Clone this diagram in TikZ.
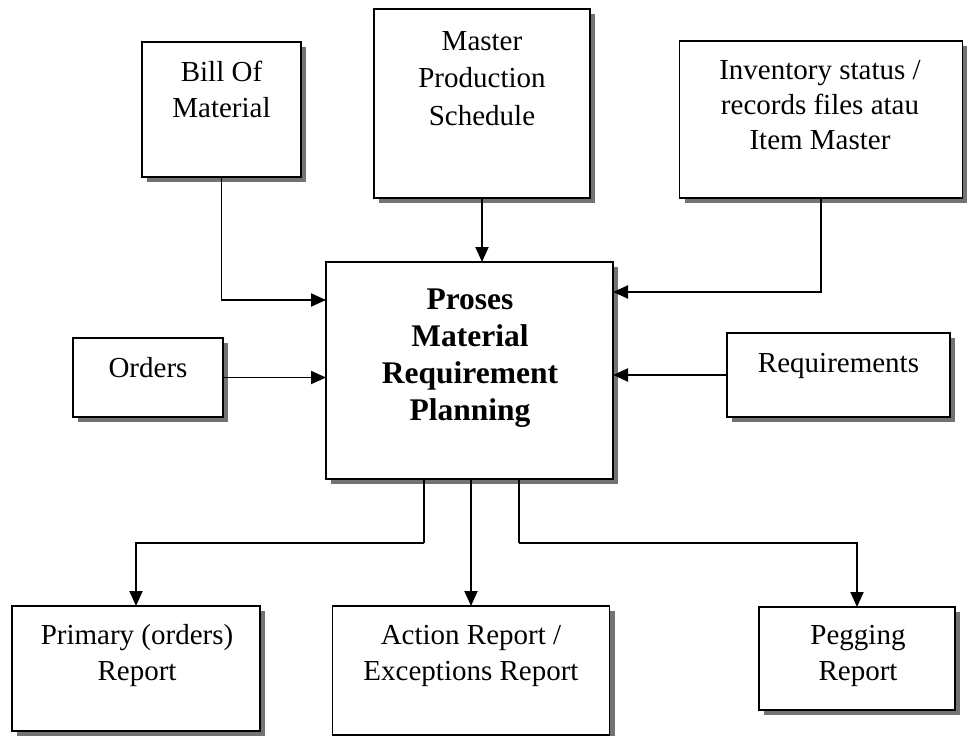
\documentclass[tikz,border=0pt]{standalone}
\usepackage{fontspec}
\setmainfont{Liberation Serif}
\usetikzlibrary{arrows.meta,shadows}
\begin{document}
\begin{tikzpicture}[x=1pt,y=-1pt,
  box/.style={draw=black,line width=1.8pt,fill=white,inner sep=0pt,outer sep=0pt,
    drop shadow={shadow xshift=5pt,shadow yshift=-5pt,fill=black!55,opacity=1}},
  lbl/.style={anchor=north,align=center,inner sep=0pt,font=\fontsize{29}{36}\selectfont},
  blbl/.style={lbl,font=\fontsize{31.5}{37}\selectfont\bfseries},
  arr/.style={line width=1.9pt,-{Triangle[length=15pt,width=13pt]}},
  ln/.style={line width=1.9pt}]
\useasboundingbox (0,0) rectangle (967,736);
% boxes
\node[box,minimum width=159pt,minimum height=135pt] (bom) at (221.5,109.5) {};
\node[box,minimum width=216pt,minimum height=189pt] (mps) at (482,103.5) {};
\node[box,minimum width=283pt,minimum height=157pt] (inv) at (821,119.5) {};
\node[box,minimum width=287pt,minimum height=217pt] (mrp) at (469.5,370.5) {};
\node[box,minimum width=150pt,minimum height=79pt] (ord) at (148,377.5) {};
\node[box,minimum width=223pt,minimum height=84pt] (req) at (838.5,375) {};
\node[box,minimum width=248pt,minimum height=125pt] (pri) at (136,668.5) {};
\node[box,minimum width=277pt,minimum height=129pt] (act) at (471,670.5) {};
\node[box,minimum width=196pt,minimum height=103pt] (peg) at (857,658.5) {};
% labels
\node[lbl] (tbom) at (221.5,61) {Bill Of\\Material};
\node[lbl,font=\fontsize{29}{37.5}\selectfont] (tmps) at (482,31) {Master\\Production\\Schedule};
\node[lbl,font=\fontsize{29}{35}\selectfont] (tinv) at (820,60) {Inventory status /\\records files atau\\Item Master};
\node[blbl] (tmrp) at (470,289) {Proses\\Material\\Requirement\\Planning};
\node[lbl] (tord) at (148,357) {Orders};
\node[lbl] (treq) at (838.5,353) {Requirements};
\node[lbl] (tpri) at (137,624) {Primary (orders)\\Report};
\node[lbl] (tact) at (471,625) {Action Report /\\Exceptions Report};
\node[lbl] (tpeg) at (858,625) {Pegging\\Report};
% connectors
\coordinate (bl) at (424,543);
\coordinate (br) at (519,543);
\draw[arr] (bom.south) |- (mrp.west |- 0,300);
\draw[arr] (mps.south) -- (mps.south |- mrp.north);
\draw[arr] (inv.south) |- (mrp.east |- 0,292);
\draw[arr] (ord.east) -- (mrp.west |- ord.east);
\draw[arr] (req.west) -- (mrp.east |- req.west);
\draw[ln] (mrp.south -| bl) -- (bl);
\draw[arr] (bl) -| (pri.north);
\draw[arr] (mrp.south -| act.north) -- (act.north);
\draw[ln] (mrp.south -| br) -- (br);
\draw[arr] (br) -| (peg.north);
\end{tikzpicture}
\end{document}
